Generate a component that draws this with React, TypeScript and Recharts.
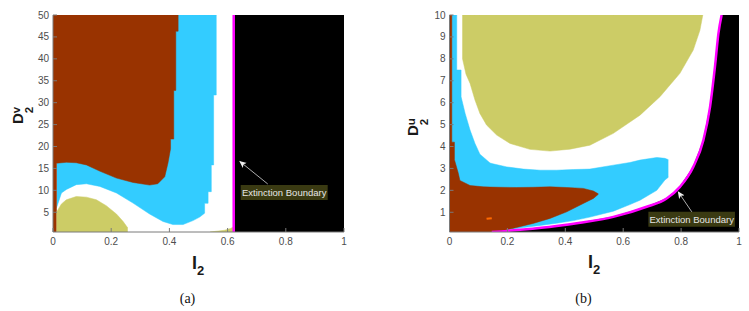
import React from "react";
import { ComposedChart, Area, Line, XAxis, YAxis, ReferenceArea, ReferenceLine } from "recharts";

type Row = { x: number; lo: number; hi: number };
type Pt = { x: number; y: number };

const BROWN = "#993300";
const BLUE = "#33ccff";
const OLIVE = "#cccc66";
const MAGENTA = "#ff00ff";
const AXIS = "#7a7a7a";
const TICK_TXT = "#4d4d4d";
const FONT = "'Liberation Sans', Arial, sans-serif";

const xTicks = [0, 0.2, 0.4, 0.6, 0.8, 1];
const aYTicks = [5, 10, 15, 20, 25, 30, 35, 40, 45, 50];
const bYTicks = [1, 2, 3, 4, 5, 6, 7, 8, 9, 10];

// panel (a): rows are [I2, lower D2v, upper D2v]
const aBlack: [number, number, number][] = [[0.624, 0.5, 50], [1, 0.5, 50]];
const aBlue: [number, number, number][] = [
  [0.012, 6.0, 50], [0.029, 9.4, 50], [0.046, 10.2, 50], [0.08, 11.3, 50], [0.115, 11.5, 50],
  [0.161, 10.9, 50], [0.218, 9.4, 50], [0.275, 7.1, 50], [0.332, 4.6, 50], [0.378, 2.9, 50],
  [0.412, 2.2, 50], [0.447, 2.2, 50], [0.481, 3.1, 50], [0.504, 3.9, 50], [0.521, 4.8, 50],
  [0.521, 7.05, 50], [0.533, 7.05, 50], [0.533, 9.7, 50], [0.544, 9.7, 50], [0.544, 15.8, 50],
  [0.552, 15.8, 50], [0.552, 31.75, 50], [0.561, 31.75, 50], [0.561, 50, 50],
];
const aBrown: [number, number, number][] = [
  [0, 0.5, 50], [0.012, 0.5, 50], [0.012, 16.2, 50], [0.03, 16.3, 50], [0.046, 16.4, 50],
  [0.08, 16.3, 50], [0.115, 15.8, 50], [0.16, 14.4, 50], [0.218, 12.8, 50], [0.275, 11.8, 50],
  [0.332, 11.2, 50], [0.36, 11.5, 50], [0.384, 13.1, 50], [0.395, 16.2, 50], [0.404, 19.5, 50],
  [0.404, 21.7, 50], [0.415, 21.7, 50], [0.415, 32.8, 50], [0.422, 32.8, 50], [0.422, 46.3, 50],
  [0.43, 46.3, 50], [0.43, 50, 50],
];
const aOlive: [number, number, number][] = [
  [0.012, 0.5, 5.0], [0.029, 0.5, 6.9], [0.046, 0.5, 7.85], [0.08, 0.5, 8.6], [0.115, 0.5, 8.45],
  [0.149, 0.5, 7.85], [0.183, 0.5, 6.5], [0.218, 0.5, 4.6], [0.241, 0.5, 2.9], [0.256, 0.5, 1.5],
  [0.256, 0.5, 0.5],
];
const aOliveSliver: [number, number, number][] = [
  [0.54, 0.5, 0.5], [0.59, 0.5, 0.9], [0.61, 0.5, 1.3], [0.621, 0.5, 1.7],
];
const aBoundary: [number, number][] = [[0.621, 0.5], [0.621, 50]];

// panel (b): rows are [I2, lower D2u, upper D2u]
const bBoundary: [number, number][] = [
  [0.146, 0.1], [0.255, 0.21], [0.37, 0.37], [0.451, 0.52], [0.566, 0.79], [0.681, 1.25],
  [0.75, 1.63], [0.796, 2.16], [0.842, 3.07], [0.877, 4.29], [0.9, 5.81], [0.917, 7.64],
  [0.929, 9.16], [0.94, 10],
];
const bBlack: [number, number, number][] = [
  [0.146, 0.1, 0.1], [0.255, 0.1, 0.21], [0.37, 0.1, 0.37], [0.451, 0.1, 0.52], [0.566, 0.1, 0.79],
  [0.681, 0.1, 1.25], [0.75, 0.1, 1.63], [0.796, 0.1, 2.16], [0.842, 0.1, 3.07], [0.877, 0.1, 4.29],
  [0.9, 0.1, 5.81], [0.917, 0.1, 7.64], [0.929, 0.1, 9.16], [0.94, 0.1, 10], [1, 0.1, 10],
];
const bBlue: [number, number, number][] = [
  [0.006, 0.1, 10], [0.025, 0.1, 10], [0.025, 0.1, 7.49], [0.04, 0.1, 7.49], [0.04, 0.1, 6.27],
  [0.054, 0.1, 5.51], [0.071, 0.1, 4.75], [0.088, 0.1, 4.14], [0.105, 0.1, 3.65], [0.14, 0.1, 3.25],
  [0.15, 0.1, 3.21], [0.198, 0.2, 3.07], [0.255, 0.3, 2.97], [0.313, 0.4, 2.92], [0.37, 0.5, 2.92],
  [0.428, 0.62, 2.95], [0.485, 0.78, 2.97], [0.566, 1.05, 3.15], [0.623, 1.35, 3.27],
  [0.658, 1.55, 3.38], [0.716, 2.0, 3.5], [0.744, 2.47, 3.46], [0.756, 2.6, 3.4],
];
const bBrown: [number, number, number][] = [
  [0, 0.1, 10], [0.008, 0.1, 10], [0.008, 0.1, 4.2], [0.017, 0.1, 4.2], [0.017, 0.1, 3.4],
  [0.03, 0.1, 2.8], [0.036, 0.1, 2.45], [0.071, 0.1, 2.22], [0.117, 0.1, 2.16], [0.14, 0.1, 2.15],
  [0.174, 0.12, 2.14], [0.232, 0.31, 2.13], [0.289, 0.49, 2.14], [0.347, 0.72, 2.16],
  [0.405, 1.02, 2.13], [0.462, 1.4, 2.09], [0.497, 1.63, 1.97], [0.514, 1.82, 1.84],
];
const bOlive: [number, number, number][] = [
  [0.045, 10, 10], [0.045, 8.0, 10], [0.057, 7.3, 10], [0.071, 6.88, 10], [0.088, 6.12, 10],
  [0.105, 5.51, 10], [0.128, 4.98, 10], [0.163, 4.52, 10], [0.209, 4.14, 10], [0.278, 3.87, 10],
  [0.347, 3.79, 10], [0.416, 3.88, 10], [0.485, 4.06, 10], [0.566, 4.6, 10], [0.658, 5.43, 10],
  [0.727, 6.27, 10], [0.796, 7.34, 10], [0.842, 8.4, 10], [0.865, 9.3, 10], [0.875, 10, 10],
];
const bSpeck: [number, number][] = [[0.128, 0.7], [0.146, 0.73]];

const rows = (t: [number, number, number][]): Row[] => t.map(([x, lo, hi]) => ({ x, lo, hi }));
const pts = (t: [number, number][]): Pt[] => t.map(([x, y]) => ({ x, y }));
const range = (d: Row) => [d.lo, d.hi];

// one coloured region of the map, drawn as a range area
const region = (id: string, data: [number, number, number][], fill: string) => (
  <Area
    key={id}
    data={rows(data)}
    dataKey={range}
    type="linear"
    fill={fill}
    fillOpacity={1}
    stroke={fill}
    strokeWidth={0.5}
    dot={false}
    activeDot={false}
    isAnimationActive={false}
  />
);

const tickStyle = { fontSize: 10, fill: TICK_TXT, fontFamily: FONT };

interface PanelProps {
  id: string;
  width: number;
  marginRight: number;
  yWidth: number;
  yDomain: [number, number];
  yTicks: number[];
  children: React.ReactNode;
}

// MATLAB-like box: ticks inside, mirrored on top and right
const Panel = ({ id, width, marginRight, yWidth, yDomain, yTicks, children }: PanelProps) => (
  <ComposedChart width={width} height={311} margin={{ top: 15, right: marginRight, bottom: 0, left: 0 }}>
    <defs>
      <marker id={`arrow-${id}`} viewBox="0 0 10 10" refX="9" refY="5" markerWidth="9" markerHeight="9" orient="auto">
        <path d="M0,0.5 L10,5 L0,9.5 L2.5,5 z" fill="#f0f0f0" />
      </marker>
    </defs>
    <XAxis
      type="number"
      dataKey="x"
      domain={[0, 1]}
      ticks={xTicks}
      interval={0}
      height={79}
      allowDataOverflow
      stroke={AXIS}
      tickSize={-4}
      tickMargin={10}
      tick={tickStyle}
    />
    <XAxis xAxisId="top" orientation="top" type="number" domain={[0, 1]} ticks={xTicks} interval={0} height={0} stroke={AXIS} tickSize={-4} tick={false} />
    <YAxis
      type="number"
      domain={yDomain}
      ticks={yTicks}
      interval={0}
      width={yWidth}
      allowDataOverflow
      stroke={AXIS}
      tickSize={-4}
      tickMargin={8}
      tick={tickStyle}
    />
    <YAxis yAxisId="right" orientation="right" type="number" domain={yDomain} ticks={yTicks} interval={0} width={0} stroke={AXIS} tickSize={-4} tick={false} />
    {children}
  </ComposedChart>
);

const boxLabel = { value: "Extinction Boundary", fill: "#e6e6e6", fontSize: 9.5, fontFamily: FONT, position: "center" as const };

export default function App() {
  return (
    <div style={{ position: "absolute", left: 0, top: 0, width: 749, height: 311, background: "#fff", overflow: "hidden" }}>
      <div style={{ position: "absolute", left: 0, top: 0 }}>
        <Panel id="a" width={360} marginRight={16} yWidth={53} yDomain={[0.5, 50]} yTicks={aYTicks}>
          {region("aBlack", aBlack, "#000")}
          {region("aBlue", aBlue, BLUE)}
          {region("aBrown", aBrown, BROWN)}
          {region("aOlive", aOlive, OLIVE)}
          {region("aSliver", aOliveSliver, OLIVE)}
          <Line data={pts(aBoundary)} dataKey="y" stroke={MAGENTA} strokeWidth={2.5} dot={false} activeDot={false} isAnimationActive={false} />
          <ReferenceArea x1={0.645} x2={0.944} y1={7.8} y2={11.2} fill="#3a3a12" fillOpacity={1} stroke="none" label={boxLabel} />
          <ReferenceLine
            segment={[{ x: 0.738, y: 11.45 }, { x: 0.642, y: 16.6 }]}
            stroke="#d8d8d8"
            strokeWidth={0.8}
            markerEnd="url(#arrow-a)"
          />
        </Panel>
      </div>
      <div style={{ position: "absolute", left: 390, top: 0 }}>
        <Panel id="b" width={359} marginRight={10} yWidth={59.5} yDomain={[0.1, 10]} yTicks={bYTicks}>
          {region("bBlack", bBlack, "#000")}
          {region("bBlue", bBlue, BLUE)}
          {region("bBrown", bBrown, BROWN)}
          {region("bOlive", bOlive, OLIVE)}
          <Line data={pts(bSpeck)} dataKey="y" stroke="#ff6a00" strokeWidth={2} dot={false} activeDot={false} isAnimationActive={false} />
          <Line data={pts(bBoundary)} dataKey="y" type="monotone" stroke={MAGENTA} strokeWidth={2.5} dot={false} activeDot={false} isAnimationActive={false} />
          <ReferenceArea x1={0.687} x2={0.986} y1={0.34} y2={1.02} fill="#3a3a12" fillOpacity={1} stroke="none" label={boxLabel} />
          <ReferenceLine
            segment={[{ x: 0.837, y: 1.02 }, { x: 0.79, y: 1.93 }]}
            stroke="#d8d8d8"
            strokeWidth={0.8}
            markerEnd="url(#arrow-b)"
          />
        </Panel>
      </div>
      <svg width={749} height={311} style={{ position: "absolute", left: 0, top: 0, pointerEvents: "none" }}>
        <g fontFamily={FONT} fontWeight="bold" fill="#1a1a1a">
          <text x={23} y={124} fontSize={15} transform="rotate(-90 23 124)">
            D<tspan fontSize={11.5} dy={-3}>v</tspan>
            <tspan fontSize={11.5} dx={-6.5} dy={13}>2</tspan>
          </text>
          <text x={418} y={136} fontSize={15} transform="rotate(-90 418 136)">
            D<tspan fontSize={11.5} dy={-3}>u</tspan>
            <tspan fontSize={11.5} dx={-7} dy={13}>2</tspan>
          </text>
          <text x={192} y={269} fontSize={18}>
            I<tspan fontSize={13} dy={6}>2</tspan>
          </text>
          <text x={588} y={268} fontSize={18}>
            I<tspan fontSize={13} dy={6}>2</tspan>
          </text>
        </g>
        <g fontFamily="'Liberation Serif', 'Times New Roman', serif" fontSize={14} fill="#111" textAnchor="middle">
          <text x={187.5} y={303}>(a)</text>
          <text x={583.5} y={303}>(b)</text>
        </g>
      </svg>
    </div>
  );
}
